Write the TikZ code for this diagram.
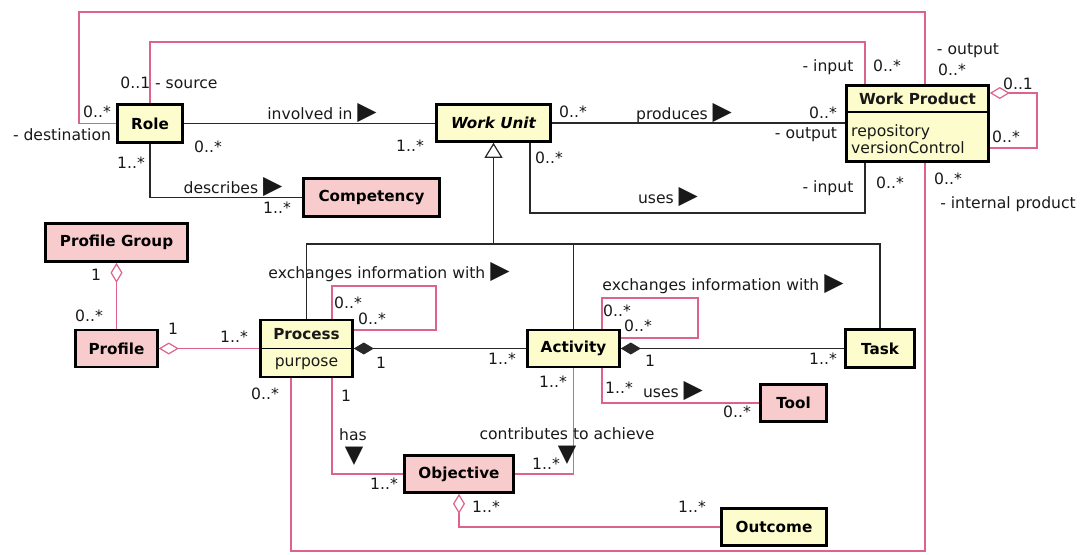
\documentclass[tikz,border=0pt]{standalone}
\usepackage{fontspec}
\setmainfont{DejaVu Sans}
\usepackage{xcolor}
\usepackage{tikz}
\usetikzlibrary{arrows.meta,positioning,calc}

\definecolor{clsyellow}{RGB}{252,252,204}
\definecolor{clspink}{RGB}{248,204,204}
\definecolor{linkpink}{RGB}{222,98,142}
\definecolor{linkgrey}{RGB}{40,40,40}

\newcommand{\rtri}{{\fontsize{25}{25}\selectfont ▶}}
\newcommand{\dtri}{{\fontsize{24}{24}\selectfont ▼}}

\begin{document}
\begin{tikzpicture}[
  x=1pt, y=-1pt,
  font=\fontsize{15.6}{17}\selectfont,
  box/.style={rectangle, draw=black, line width=2.6pt, fill=clsyellow,
              inner sep=0pt, font=\fontsize{15.2}{17}\selectfont\bfseries},
  boxext/.style={box, fill=clspink},
  lbl/.style={inner sep=0pt, text=black!90},
  assoc/.style={line width=1.2pt, linkgrey},
  assocext/.style={line width=1.2pt, linkpink},
  agg/.style={{Diamond[open, fill=white, length=20pt, width=12pt]}-},
  comp/.style={{Diamond[length=20pt, width=12pt]}-},
  gen/.style={-{Triangle[open, fill=white, length=15pt, width=18pt]}}
]
\useasboundingbox (0,0) rectangle (1086,554);

% classes
\node[box, minimum width=65pt, minimum height=38pt] (role) at (150,123.5) {Role};
\node[box, minimum width=114pt, minimum height=37pt,
      font=\fontsize{15.2}{17}\selectfont\bfseries\itshape] (workunit) at (493.5,123) {Work Unit};
\node[box, minimum width=142pt, minimum height=76pt] (workproduct) at (917.5,123.5) {};
\node[lbl, font=\fontsize{15.2}{17}\selectfont\bfseries] (wpname) at (917.5,99) {Work Product};
\node[lbl, anchor=west, align=left] (wpattr) at (851,139) {repository\\versionControl};
\draw[line width=1.2pt] (workproduct.west |- wpname.south) ++(0,7) coordinate (wpdiv)
  -- (wpdiv -| workproduct.east);
\node[boxext, minimum width=136pt, minimum height=38pt] (competency) at (371.5,197.5) {Competency};
\node[boxext, minimum width=142pt, minimum height=38pt] (profilegroup) at (116.5,242.5) {Profile Group};
\node[boxext, minimum width=82pt, minimum height=37pt] (profile) at (116.5,348.5) {Profile};
\node[box, minimum width=92pt, minimum height=57pt] (process) at (306.5,348.5) {};
\node[lbl, font=\fontsize{15.2}{17}\selectfont\bfseries] (procname) at (306.5,334) {Process};
\node[lbl] (procattr) at (306.5,364) {purpose};
\draw[line width=1.2pt] (process.west) -- (process.east);
\node[box, minimum width=92pt, minimum height=37pt] (activity) at (573.5,348.5) {Activity};
\node[box, minimum width=69pt, minimum height=38pt] (task) at (880,348.5) {Task};
\node[boxext, minimum width=66pt, minimum height=37pt] (tool) at (793.5,403) {Tool};
\node[boxext, minimum width=109pt, minimum height=37pt] (objective) at (459,474) {Objective};
\node[box, minimum width=105pt, minimum height=37pt] (outcome) at (774,527) {Outcome};

% generalization
\coordinate (genbus) at (493.5,244);
\draw[assoc, gen] (genbus) -- (workunit.south);
\draw[assoc] (process.north) |- (task.north |- genbus) -- (task.north);
\draw[assoc] (activity.north) -- (activity.north |- genbus);

% associations
\draw[assoc] (role.east) -- (role.east -| workunit.west);
\draw[assoc] (role.south) |- (competency.west);
\draw[assoc] (workunit.east) -- (workunit.east -| workproduct.west);
\draw[assoc] ([xshift=36.5pt]workunit.south) |- (865,213) -- ([xshift=-52.5pt]workproduct.south);
\draw[assocext] (role.west) -| (79,12) -| ([xshift=7.5pt]workproduct.north);
\draw[assocext] (role.north) |- (865,42) -- ([xshift=-52.5pt]workproduct.north);
\draw[assocext, agg] ([yshift=30.5pt]workproduct.east) -| (1037,148) -- ([yshift=-24.5pt]workproduct.east);
\draw[assocext] ([xshift=7.5pt]workproduct.south) |- (291,551) -- ([xshift=-15.5pt]process.south);
\draw[assocext] ([xshift=25.5pt]process.north) |- (436,286) |- ([yshift=18.5pt]process.east);
\draw[assocext] ([xshift=28.5pt]activity.north) |- (698,298) |- ([yshift=10.5pt]activity.east);
\draw[assoc, comp] (process.east) -- (activity.west);
\draw[assoc, comp] (activity.east) -- (task.west);
\draw[assocext, agg] (profile.east) -- (profile.east -| process.west);
\draw[assocext, agg] (profilegroup.south) -- (profile.north);
\draw[assocext] ([xshift=25.5pt]process.south) |- (objective.west);
\draw[assocext] (activity.south) |- (objective.east);
\draw[assocext] ([xshift=28.5pt]activity.south) |- (tool.west);
\draw[assocext, agg] (objective.south) |- (outcome.west);

% association names
\node[lbl] (nInvolved) at (322,113) {involved in \rtri};
\node[lbl] (nDescribes) at (233,187) {describes \rtri};
\node[lbl] (nProduces) at (684,113) {produces \rtri};
\node[lbl] (nUsesWP) at (668,197) {uses \rtri};
\node[lbl] (nExchProc) at (389,272) {exchanges information with \rtri};
\node[lbl] (nExchAct) at (723,284) {exchanges information with \rtri};
\node[lbl] (nUsesTool) at (673,391) {uses \rtri};
\node[lbl] (nHas) at (353,435) {has};
\node[lbl] (nHasDir) at (354,456) {\dtri};
\node[lbl] (nContrib) at (567,434) {contributes to achieve};
\node[lbl] (nContribDir) at (567,455) {\dtri};

% multiplicities and roles
\foreach \x/\y/\t [count=\i] in {
  208/147/0..*, 410/146/1..*, 131/163/1..*, 277/208/1..*,
  97/112/0..*, 62/135/- destination, 968/51/- output, 952/70/0..*,
  169/83/0..1 - source, 828/67/- input, 887/66/0..*,
  573/112/0..*, 823/113/0..*, 806/135/- output,
  549/158/0..*, 828/188/- input, 890/183/0..*,
  1018/84/0..1, 1006/137/0..*,
  948/179/0..*, 1008/204/- internal product, 265/394/0..*,
  348/303/0..*, 372/319/0..*, 617/311/0..*, 638/326/0..*,
  381/363/1, 502/359/1..*, 650/361/1, 823/359/1..*,
  173/329/1, 234/337/1..*, 96/275/1, 89/316/0..*,
  346/396/1, 384/484/1..*, 553/382/1..*, 546/464/1..*,
  619/388/1..*, 737/412/0..*, 486/507/1..*, 692/507/1..*}
  \node[lbl] (m\i) at (\x,\y) {\t};
\end{tikzpicture}
\end{document}
